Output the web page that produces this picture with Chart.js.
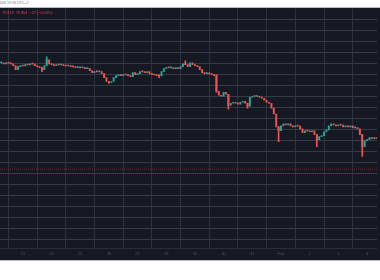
<!DOCTYPE html>
<html>
<head>
<meta charset="utf-8">
<script src="https://cdn.jsdelivr.net/npm/chart.js@4.4.1/dist/chart.umd.min.js"></script>
<style>
  body { margin: 0; background: #fff; width: 380px; height: 280px; overflow: hidden; position: relative; font-family: "Liberation Sans", Arial, sans-serif; }
  #panel { position: absolute; left: 0; top: 8px; width: 380px; height: 252px; background: #151924; }
  #topline { position: absolute; left: 0; top: 7px; width: 380px; height: 1px; background: #b8bbc4; }
  #botline { position: absolute; left: 0; top: 260px; width: 380px; height: 1px; background: #b8bbc4; }
  #chart { position: absolute; left: 0; top: 8px; }
  #stamp { position: absolute; left: 0; top: 1px; font-size: 3.6px; color: #6a6d78; white-space: nowrap; }
  #legend { position: absolute; left: 2px; top: 11px; font-size: 3.8px; color: #d2444a; white-space: nowrap; }
</style>
</head>
<body>
<div id="panel"></div>
<div id="topline"></div>
<div id="botline"></div>
<canvas id="chart" width="380" height="252"></canvas>
<div id="stamp">026 19:56 UTC+2</div>
<div id="legend">79,818 &nbsp;79,864 &nbsp;−27 (−0.03%)</div>
<script>
// 2h candles from Jan 22 06:00, x in days after Jan 23 00:00
const startDay = -0.75
const stepDays = 2 / 24

const firstOpen = 87050
const closes = [
  87050, 86960, 87050, 87020, 86960, 86790, 86430, 86700, 86790, 86760,
  86880, 86850, 86960, 86930, 86790, 86700, 86610, 86430, 86790, 87320,
  86960, 86880, 86790, 86880, 86850, 86880, 86790, 86760, 86790, 86700,
  86680, 86610, 86630, 86590, 86610, 86520, 86540, 86340, 86160, 86250,
  86230, 86250, 86070, 85710, 85360, 85270, 85360, 85710, 85890, 85980,
  85890, 85980, 85950, 85890, 85800, 86160, 85980, 86070, 86250, 86230,
  86160, 86250, 86070, 85980, 85950, 85890, 85870, 86250, 86520, 86610,
  86590, 86610, 86520, 86610, 86520, 86700, 86960, 86880, 86700, 87050,
  86880, 86790, 86700, 86430, 86160, 86070, 86090, 86050, 85980, 85890,
  84460, 84110, 84020, 84380, 84200, 83210, 83390, 83480, 83390, 83300,
  83480, 83570, 83390, 83130, 83930, 84020, 84000, 84020, 83930, 83840,
  83660, 83480, 83390, 82950, 82410, 81250, 80890, 81340, 81520, 81430,
  81520, 81340, 81250, 81340, 81320, 81070, 80710, 80890, 80870, 80800,
  80890, 80540, 80090, 80360, 80450, 80800, 80980, 81340, 81520, 81430,
  81340, 81430, 81410, 81250, 81340, 81250, 81340, 81160, 81180, 81070,
  80540, 79460, 80000, 80090, 80270, 80180, 80270, 80180
]

// visible wicks: candle index, low, high
const wickIdx  = [17, 19, 45, 66, 77, 90, 95, 103, 116, 132, 151]
const wickLow  = [86250, 86960, 85180, 85710, 86880, 84380, 82860, 82950, 79910, 79460, 78570]
const wickHigh = [86610, 87590, 85360, 85890, 87230, 85980, 84200, 83390, 81250, 80540, 80540]

const markLevel = 77410

const priceTicks = [71000, 72000, 73000, 74000, 75000, 76000, 77000, 78000, 79000, 80000,
  81000, 82000, 83000, 84000, 85000, 86000, 87000, 88000, 89000, 90000, 91000]
const tickDays = [0, 1, 2, 3, 4, 5, 6, 7, 8, 9, 10, 11, 12]
const tickLabels = ['23', '24', '25', '26', '27', '28', '29', '30', '31', 'Feb', '2', '3', '4']

const xMin = -0.795
const xMax = 12.345
const yMin = 70268
const yMax = 91964

const UP = '#26a69a'
const DOWN = '#ef5350'

const bodies = closes.map((c, i) => ({
  x: startDay + i * stepDays,
  y: [i === 0 ? firstOpen : closes[i - 1], c]
}))
const wicks = wickIdx.map((idx, k) => ({
  x: startDay + idx * stepDays,
  y: [wickLow[k], wickHigh[k]]
}))
const candleColor = ctx => {
  const v = ctx.raw && ctx.raw.y
  return v && v[1] >= v[0] ? UP : DOWN
}
const wickColor = ctx => {
  const i = wickIdx[ctx.dataIndex]
  const o = i === 0 ? firstOpen : closes[i - 1]
  return closes[i] >= o ? UP : DOWN
}

new Chart(document.getElementById('chart'), {
  data: {
    datasets: [
      {
        type: 'line',
        data: [{ x: xMin, y: markLevel }, { x: xMax, y: markLevel }],
        borderColor: 'rgba(160, 45, 60, 0.65)',
        borderWidth: 1,
        borderDash: [1, 1],
        pointRadius: 0
      },
      {
        type: 'bar',
        data: wicks,
        backgroundColor: wickColor,
        barThickness: 1,
        grouped: false
      },
      {
        type: 'bar',
        data: bodies,
        backgroundColor: candleColor,
        barThickness: 1.3,
        minBarLength: 1,
        grouped: false
      }
    ]
  },
  options: {
    responsive: false,
    animation: false,
    devicePixelRatio: 1,
    layout: { padding: { left: 0, right: 0, top: 0, bottom: 1.2 } },
    plugins: { legend: { display: false }, tooltip: { enabled: false } },
    scales: {
      x: {
        type: 'linear',
        min: xMin,
        max: xMax,
        offset: false,
        afterBuildTicks: scale => { scale.ticks = tickDays.map(v => ({ value: v })) },
        ticks: {
          padding: 3,
          color: '#4f535e',
          font: { size: 4 },
          maxRotation: 0,
          autoSkip: false,
          callback: (v, i) => tickLabels[i]
        },
        grid: { color: '#2e323d', drawTicks: false },
        border: { display: true, color: '#2a2e39' }
      },
      y: {
        type: 'linear',
        position: 'right',
        min: yMin,
        max: yMax,
        afterBuildTicks: scale => { scale.ticks = priceTicks.map(v => ({ value: v })) },
        ticks: { display: true, color: 'rgba(0,0,0,0)', font: { size: 1 }, padding: 0 },
        grid: { color: '#363a45', drawTicks: false },
        border: { display: false }
      }
    }
  }
})
</script>
</body>
</html>
